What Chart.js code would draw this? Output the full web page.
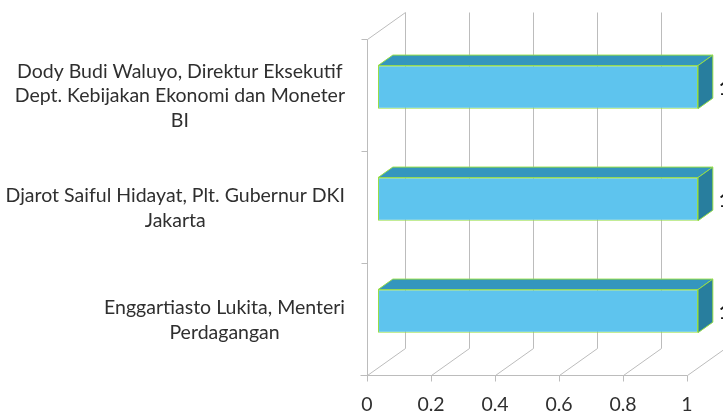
<!DOCTYPE html>
<html>
<head>
<meta charset="utf-8">
<script src="https://cdn.jsdelivr.net/npm/chart.js@4/dist/chart.umd.min.js"></script>
<style>
  html, body { margin: 0; padding: 0; background: #ffffff; }
  #wrap { width: 723px; height: 414px; }
</style>
</head>
<body>
<div id="wrap"><canvas id="chart" width="723" height="414"></canvas></div>
<script>
// Speakers (multi-line category labels), top to bottom
const categories = [
  ["Dody Budi Waluyo, Direktur Eksekutif", "Dept. Kebijakan Ekonomi dan Moneter", "BI"],
  ["Djarot Saiful Hidayat, Plt. Gubernur DKI", "Jakarta"],
  ["Enggartiasto Lukita, Menteri", "Perdagangan"]
];
// Count per speaker
const values = [1, 1, 1];
// Value axis ticks
const tickValues = [0, 0.2, 0.4, 0.6, 0.8, 1];

// 3D box geometry (pixels of depth and fraction of depth the bars occupy)
const DEPTH = { dx: 38, dy: -27 };
const BAR_FRONT = 0.29, BAR_BACK = 0.68;
const GRID = '#bcbcbc';
const TEXT = '#2f2f2f';
const FONT = 'Lato, "Open Sans", sans-serif';
const FONT_SIZE = 19.5;
const FACE_FRONT = 'rgb(94,196,238)';
const FACE_TOP = 'rgb(52,150,190)';
const FACE_SIDE = 'rgb(40,126,158)';
const EDGE = 'rgb(150,222,70)';

function seg(ctx, x1, y1, x2, y2) {
  ctx.beginPath(); ctx.moveTo(x1, y1); ctx.lineTo(x2, y2); ctx.stroke();
}
function poly(ctx, pts, fill) {
  ctx.beginPath();
  ctx.moveTo(pts[0][0], pts[0][1]);
  for (let i = 1; i < pts.length; i++) ctx.lineTo(pts[i][0], pts[i][1]);
  ctx.closePath();
  ctx.fillStyle = fill; ctx.fill();
  ctx.strokeStyle = EDGE; ctx.lineWidth = 1; ctx.stroke();
}

const box3d = {
  id: 'box3d',
  beforeDatasetsDraw(chart) {
    const { ctx, chartArea: a, scales: { x } } = chart;
    const { dx, dy } = DEPTH;
    ctx.save();
    ctx.strokeStyle = GRID;
    ctx.lineWidth = 1;
    const bottom = Math.round(a.bottom) + 0.5;
    const top = Math.round(a.top) + 0.5;
    tickValues.forEach(v => {
      const px = Math.round(x.getPixelForValue(v)) + 0.5;
      seg(ctx, px + dx, top + dy, px + dx, bottom + dy);   // back wall
      seg(ctx, px, bottom, px + dx, bottom + dy);          // floor
      seg(ctx, px, bottom, px, bottom + 6);                // tick mark
    });
    const x0 = Math.round(x.getPixelForValue(0)) + 0.5;
    const x1 = Math.round(x.getPixelForValue(1)) + 0.5;
    seg(ctx, x0 - 7, bottom, x1, bottom);                  // front floor edge
    seg(ctx, x0, top, x0, bottom);                         // left wall front edge
    seg(ctx, x0, top, x0 + dx, top + dy);                  // left wall top edge
    // category boundaries on the left wall
    const n = categories.length;
    for (let i = 0; i <= n; i++) {
      const yy = Math.round(a.top + (a.bottom - a.top) * i / n) + 0.5;
      seg(ctx, x0 - 6, yy, x0, yy);
    }
    ctx.restore();
    // front faces of the bars sit partway into the depth
    ctx.save();
    ctx.translate(BAR_FRONT * dx, BAR_FRONT * dy);
  },
  afterDatasetsDraw(chart) {
    const { ctx } = chart;
    ctx.restore();
    const { dx, dy } = DEPTH;
    const ox = BAR_FRONT * dx, oy = BAR_FRONT * dy;
    const bx = (BAR_BACK - BAR_FRONT) * dx, by = (BAR_BACK - BAR_FRONT) * dy;
    const meta = chart.getDatasetMeta(0);
    ctx.save();
    meta.data.forEach((bar, i) => {
      const p = bar.getProps(['x', 'y', 'base', 'height'], true);
      const left = p.base + ox, right = p.x + ox;
      const top = p.y - p.height / 2 + oy, bot = p.y + p.height / 2 + oy;
      poly(ctx, [[left, top], [left + bx, top + by], [right + bx, top + by], [right, top]], FACE_TOP);
      poly(ctx, [[right, top], [right + bx, top + by], [right + bx, bot + by], [right, bot]], FACE_SIDE);
      ctx.fillStyle = '#1a1a1a';
      ctx.font = 'bold ' + FONT_SIZE + 'px ' + FONT;
      ctx.textAlign = 'left';
      ctx.textBaseline = 'middle';
      ctx.fillText(String(chart.data.datasets[0].data[i]), right + bx + 6, p.y + oy + 2);
    });
    ctx.restore();
  },
  afterDraw(chart) {
    const { ctx, chartArea: a, scales: { y } } = chart;
    ctx.save();
    ctx.font = FONT_SIZE + 'px ' + FONT;
    ctx.fillStyle = TEXT;
    ctx.textAlign = 'center';
    ctx.textBaseline = 'middle';
    const lh = 24.5;
    const rightEdge = a.left - 22;
    categories.forEach((lines, i) => {
      const yc = y.getPixelForValue(i);
      const w = Math.max(...lines.map(s => ctx.measureText(s).width));
      const cx = rightEdge - w / 2;
      const y0 = yc - (lines.length - 1) * lh / 2 + 1;
      lines.forEach((s, k) => ctx.fillText(s, cx, y0 + k * lh));
    });
    ctx.restore();
  }
};

new Chart(document.getElementById('chart'), {
  type: 'bar',
  data: {
    labels: categories,
    datasets: [{
      data: values,
      backgroundColor: FACE_FRONT,
      borderColor: EDGE,
      borderWidth: 1,
      borderSkipped: false,
      barPercentage: 0.385,
      categoryPercentage: 1,
      clip: false
    }]
  },
  options: {
    indexAxis: 'y',
    responsive: false,
    animation: false,
    devicePixelRatio: 1,
    layout: { padding: { top: 39, right: 36, bottom: 0, left: 0 } },
    plugins: { legend: { display: false }, tooltip: { enabled: false } },
    scales: {
      x: {
        min: 0, max: 1,
        grid: { display: false, drawTicks: false },
        border: { display: false },
        ticks: {
          stepSize: 0.2,
          padding: 18,
          color: TEXT,
          font: { family: FONT, size: FONT_SIZE },
          maxRotation: 0,
          callback: v => String(Math.round(v * 10) / 10)
        },
        afterFit(s) { s.height = 39; }
      },
      y: {
        grid: { display: false },
        border: { display: false },
        ticks: { display: false },
        afterFit(s) { s.width = 367; }
      }
    }
  },
  plugins: [box3d]
});
</script>
</body>
</html>
